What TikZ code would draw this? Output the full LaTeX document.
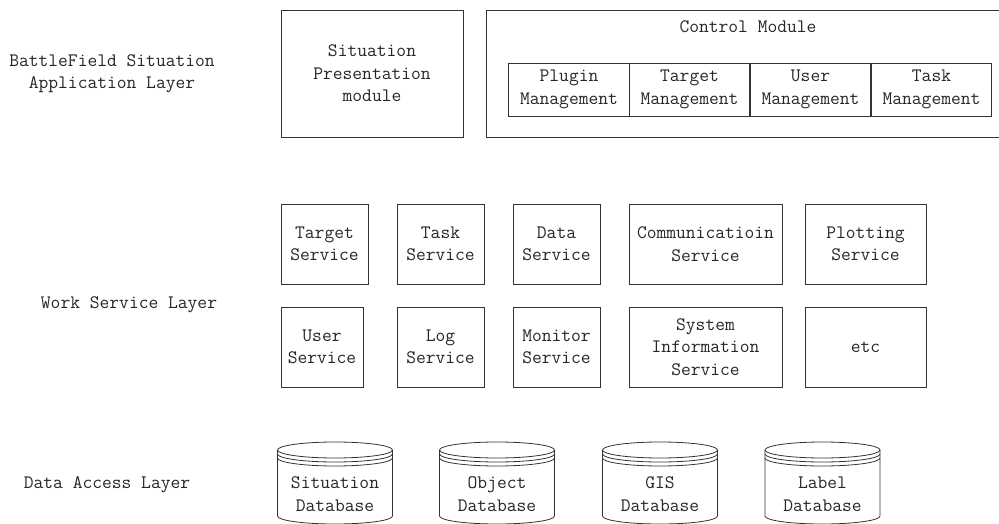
\documentclass[tikz,border=0pt]{standalone}
\begin{document}
\begin{tikzpicture}[x=1pt,y=-1pt,
  every node/.style={font=\ttfamily\fontsize{19}{22.5}\selectfont, text=black!85, inner sep=0pt, align=center},
  box/.style={draw=black!80, line width=0.8pt},
  dbline/.style={draw=black!80, line width=0.8pt}]
\useasboundingbox (0,0) rectangle (999,524);
\fill[white] (0,0) rectangle (999,524);
% layer labels
\node (l1) at (112,73.5) {BattleField Situation\\Application Layer};
\node (l2) at (129,305) {Work Service Layer};
\node (l3) at (107,485) {Data Access Layer};
% application layer
\node[box, minimum width=182pt, minimum height=127pt] (spm) at (372,73.5) {Situation\\Presentation\\module};
\node[box, minimum width=524pt, minimum height=127pt] (ctrl) at (748,73.5) {};
\node (ctrlt) at (748,27) {Control Module};
\node[box, minimum width=120.5pt, minimum height=53pt] (pm) at (569,89.5) {Plugin\\Management};
\node[box, minimum width=120.5pt, minimum height=53pt] (tm) at (689.5,89.5) {Target\\Management};
\node[box, minimum width=120.5pt, minimum height=53pt] (um) at (810.5,89.5) {User\\Management};
\node[box, minimum width=120.5pt, minimum height=53pt] (km) at (931.5,89.5) {Task\\Management};
% work service layer
\node[box, minimum width=87pt, minimum height=80pt] (ts) at (324.5,244) {Target\\Service};
\node[box, minimum width=87pt, minimum height=80pt] (ks) at (440.5,244) {Task\\Service};
\node[box, minimum width=87pt, minimum height=80pt] (ds) at (556.5,244) {Data\\Service};
\node[box, minimum width=153pt, minimum height=80pt] (cs) at (705.5,244) {Communicatioin\\Service};
\node[box, minimum width=121pt, minimum height=80pt] (ps) at (865.5,244) {Plotting\\Service};
\node[box, minimum width=82pt, minimum height=80pt] (us) at (322,347) {User\\Service};
\node[box, minimum width=87pt, minimum height=80pt] (ls) at (440.5,347) {Log\\Service};
\node[box, minimum width=87pt, minimum height=80pt] (ms) at (556.5,347) {Monitor\\Service};
\node[box, minimum width=153pt, minimum height=80pt] (si) at (705.5,347) {System\\Information\\Service};
\node[box, minimum width=121pt, minimum height=80pt] (etc) at (865.5,347) {etc};
% databases
\foreach \cx/\nm/\txt in {335/sdb/Situation, 497/odb/Object, 660/gdb/GIS, 822.5/ldb/Label}{
  \draw[dbline] (\cx,450) ellipse[x radius=57.5, y radius=8];
  \draw[dbline] (\cx-57.5,454) arc[start angle=180, end angle=0, x radius=57.5, y radius=8];
  \draw[dbline] (\cx-57.5,458) arc[start angle=180, end angle=0, x radius=57.5, y radius=8];
  \draw[dbline] (\cx-57.5,450) -- (\cx-57.5,516) arc[start angle=180, end angle=0, x radius=57.5, y radius=8] -- (\cx+57.5,450);
  \node (\nm) at (\cx,494) {\txt\\Database};
}
\end{tikzpicture}
\end{document}
